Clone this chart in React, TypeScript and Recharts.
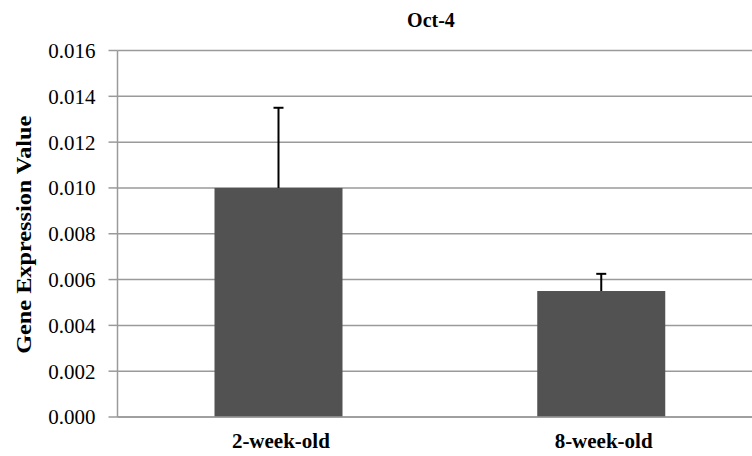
import React from "react";
import { BarChart, Bar, XAxis, YAxis, CartesianGrid } from "recharts";

const categories = ["2-week-old", "8-week-old"];
const values = [0.01, 0.0055];
const errors = [0.0035, 0.00075];
const yTicks = [0, 0.002, 0.004, 0.006, 0.008, 0.01, 0.012, 0.014, 0.016];
const title = "Oct-4";
const yLabel = "Gene Expression Value";

const data = categories.map((c, i) => ({ name: c, value: values[i], err: errors[i] }));

const FONT = "Liberation Serif";

const BarWithError = (props: any) => {
  const { x, y, width, height, payload } = props;
  const cx = x + width / 2;
  const pxPerUnit = payload.value ? height / payload.value : 0;
  const errPx = payload.err * pxPerUnit;
  return (
    <g>
      <rect x={x} y={y} width={width} height={height} fill="#525252" />
      <line x1={cx} y1={y} x2={cx} y2={y - errPx} stroke="#000" strokeWidth={2} />
      <line x1={cx - 5} y1={y - errPx} x2={cx + 5} y2={y - errPx} stroke="#000" strokeWidth={2} />
    </g>
  );
};

const XTick = (props: any) => {
  const { x, y, payload } = props;
  return (
    <text
      x={x + 2}
      y={y + 31}
      textAnchor="middle"
      fontFamily={FONT}
      fontWeight="bold"
      fontSize={21}
      fill="#000"
    >
      {payload.value}
    </text>
  );
};

export default function App() {
  return (
    <div style={{ position: "fixed", left: 0, top: 0, width: 752, height: 456, overflow: "hidden", background: "#fff" }}>
      <svg width={752} height={40} style={{ position: "absolute", left: 0, top: 0, zIndex: 2, pointerEvents: "none" }}>
        <text x={431} y={26.5} textAnchor="middle" fontFamily={FONT} fontWeight="bold" fontSize={20} fill="#000">
          {title}
        </text>
      </svg>
      <BarChart
        width={770}
        height={456}
        data={data}
        margin={{ top: 50.5, right: 7, bottom: 9, left: 0 }}
        barSize={128}
      >
        <CartesianGrid vertical={false} stroke="#9a9a9a" strokeWidth={1.5} />
        <XAxis
          dataKey="name"
          height={30}
          tick={<XTick />}
          tickLine={false}
          tickSize={0}
          tickMargin={0}
          axisLine={{ stroke: "#9a9a9a", strokeWidth: 1.5 }}
        />
        <YAxis
          width={117.5}
          domain={[0, 0.016]}
          ticks={yTicks}
          interval={0}
          tickFormatter={(v: number) => v.toFixed(3)}
          tick={{ fontFamily: FONT, fontSize: 21, fill: "#000" }}
          tickSize={9}
          tickMargin={13}
          tickLine={{ stroke: "#9a9a9a", strokeWidth: 1.5 }}
          axisLine={{ stroke: "#9a9a9a", strokeWidth: 1.5 }}
          label={{
            content: (p: any) => {
              const vb = p.viewBox || { y: 50.5, height: 366.5 };
              const cy = vb.y + vb.height / 2 + 1;
              return (
                <text
                  x={23}
                  y={cy}
                  transform={`rotate(-90, 23, ${cy})`}
                  textAnchor="middle"
                  dominantBaseline="central"
                  fontFamily={FONT}
                  fontWeight="bold"
                  fontSize={22}
                  textLength={238}
                  lengthAdjust="spacingAndGlyphs"
                  fill="#000"
                >
                  {yLabel}
                </text>
              );
            },
          }}
        />
        <Bar dataKey="value" shape={<BarWithError />} isAnimationActive={false} />
      </BarChart>
    </div>
  );
}
